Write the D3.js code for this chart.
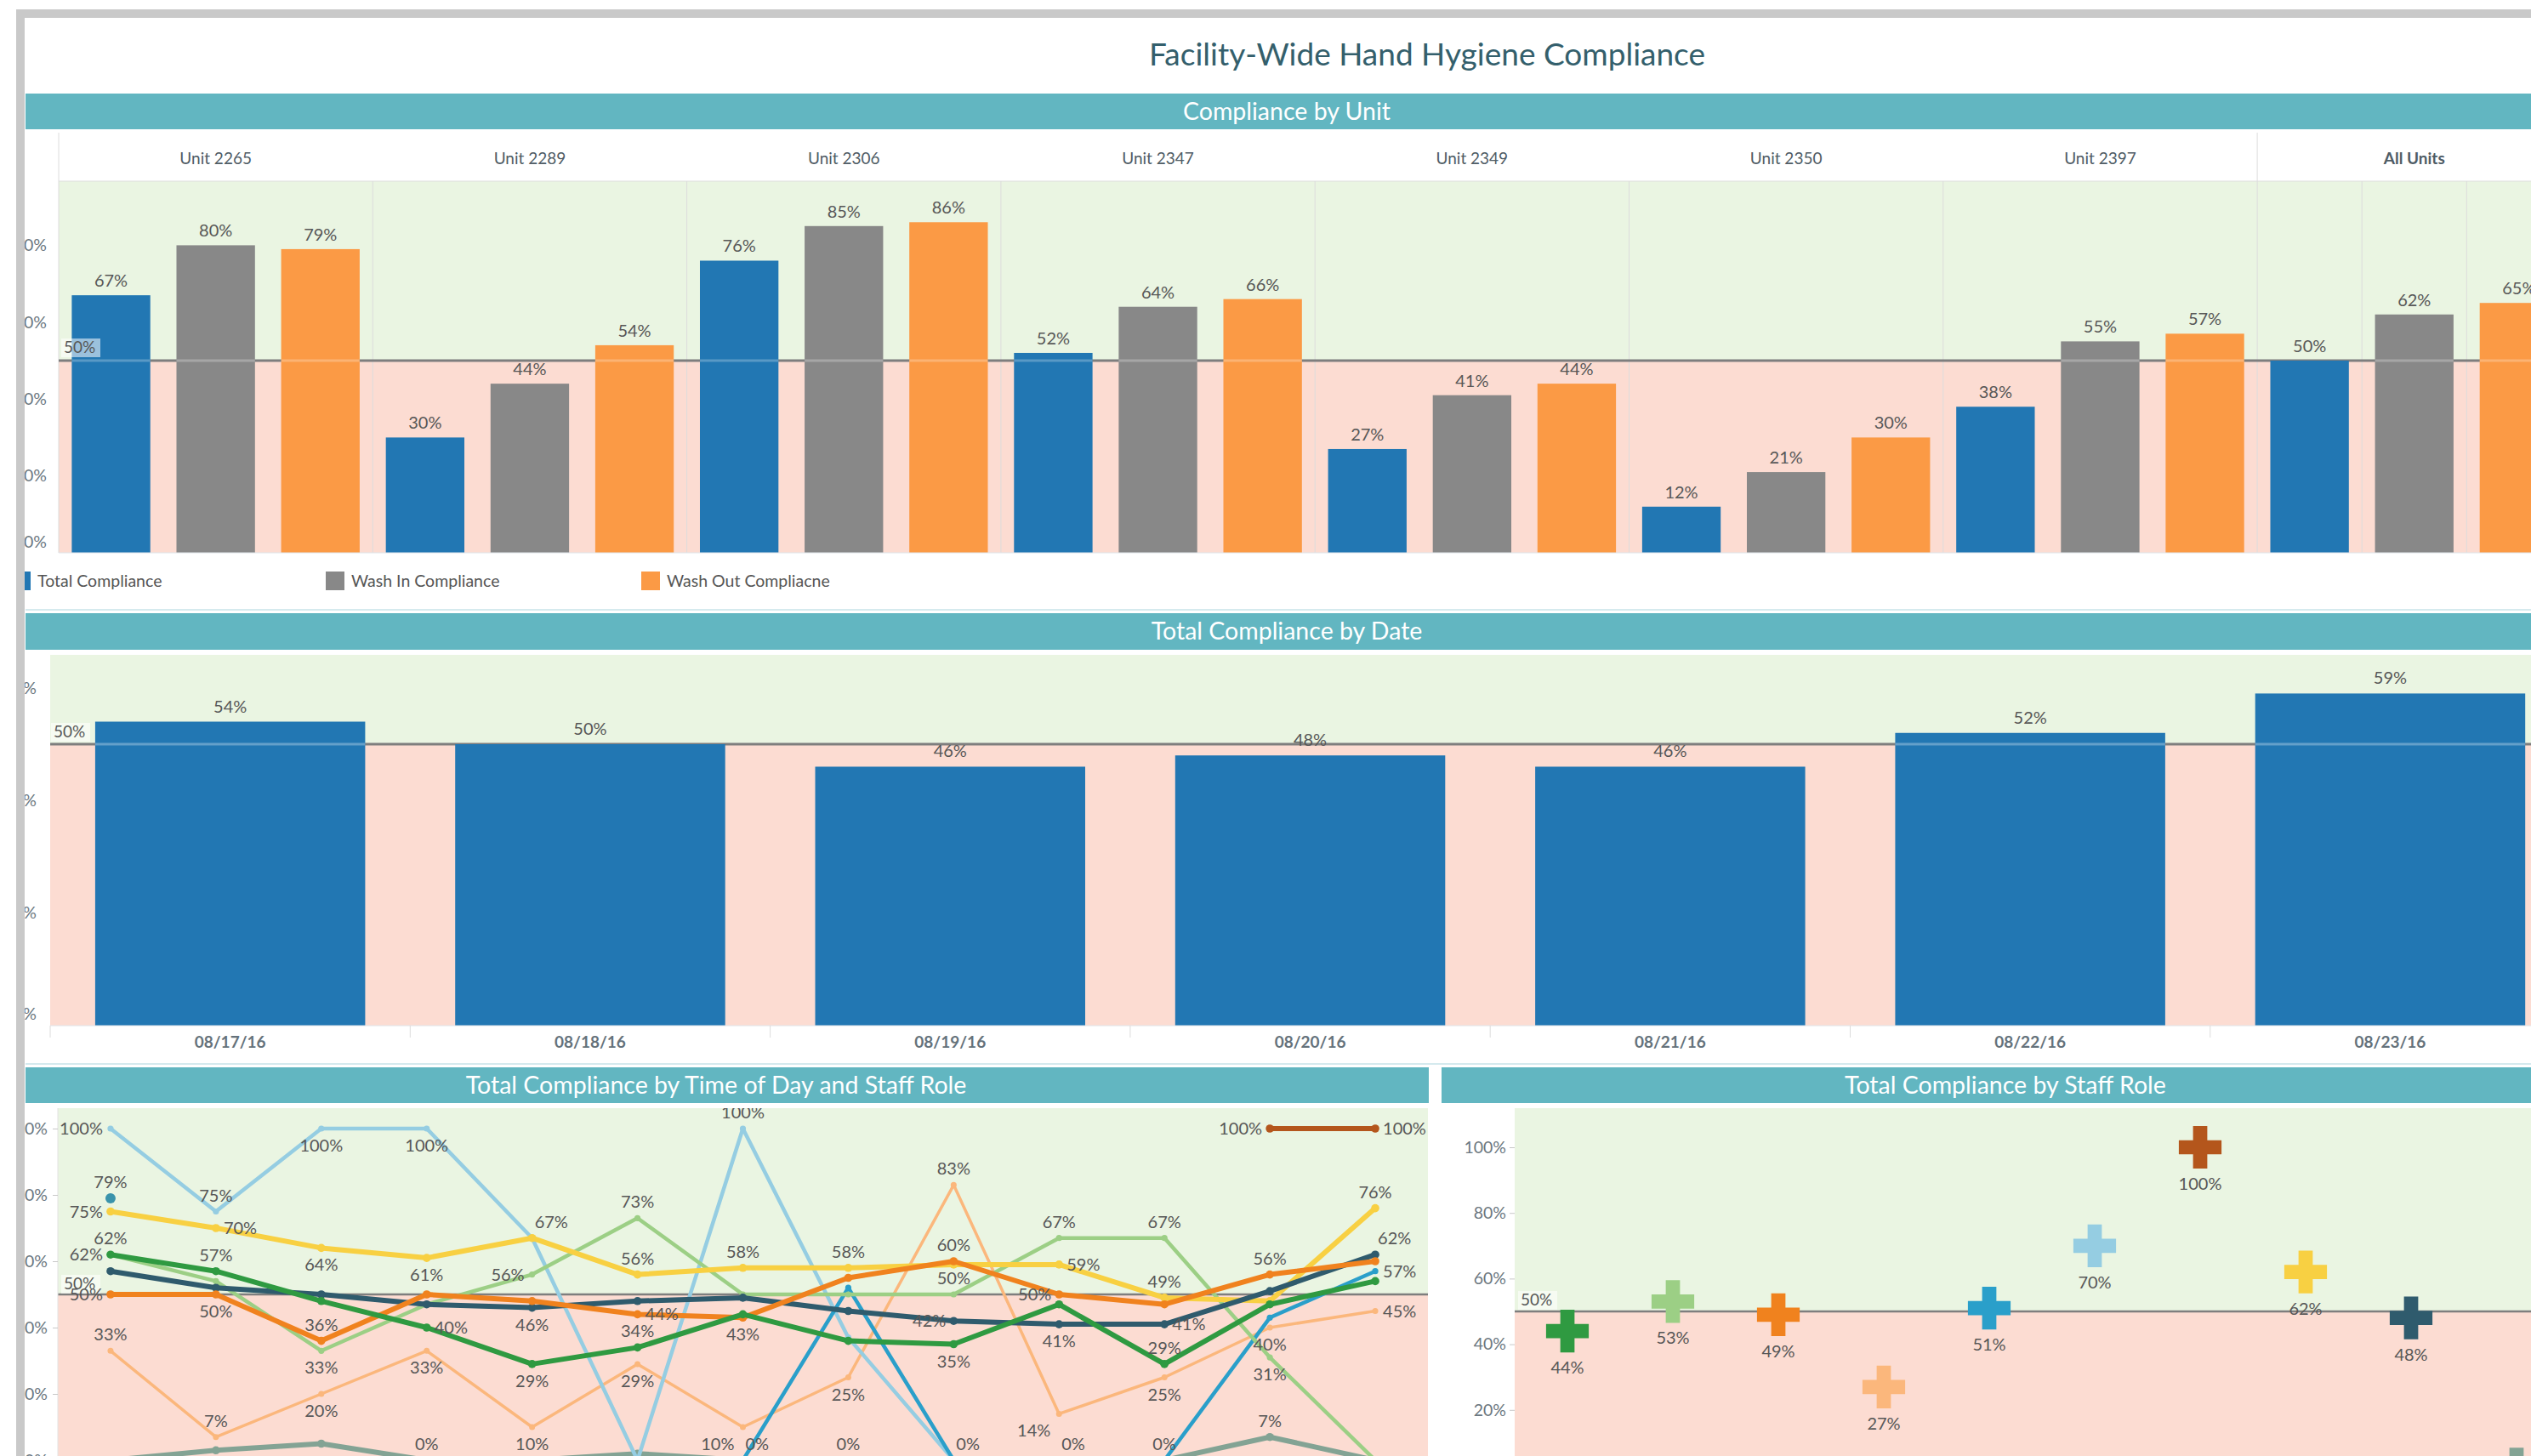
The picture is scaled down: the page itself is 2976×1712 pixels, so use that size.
<!DOCTYPE html>
<html>
<head>
<meta charset="utf-8">
<script src="https://cdn.jsdelivr.net/npm/d3@7"></script>
<style>
  body { margin: 0; background: #fff; }
  svg { display: block; font-family: Lato, "Open Sans", sans-serif; }
</style>
</head>
<body>
<script>
const W = 2976, H = 1712;

// ---- data ----
const units = ['Unit 2265', 'Unit 2289', 'Unit 2306', 'Unit 2347', 'Unit 2349', 'Unit 2350', 'Unit 2397', 'All Units'];
const measures = ['Total Compliance', 'Wash In Compliance', 'Wash Out Compliacne'];
const totalByUnit   = [67, 30, 76, 52, 27, 12, 38, 50];
const washInByUnit  = [80, 44, 85, 64, 41, 21, 55, 62];
const washOutByUnit = [79, 54, 86, 66, 44, 30, 57, 65];

const dates = ['08/17/16', '08/18/16', '08/19/16', '08/20/16', '08/21/16', '08/22/16', '08/23/16'];
const totalByDate = [54, 50, 46, 48, 46, 52, 59];

const target = 50;
const unitTicks = [0, 20, 40, 60, 80];
const dateTicks = [0, 20, 40, 60];
const lineTicks = [0, 20, 40, 60, 80, 100];
const roleTicks = [20, 40, 60, 80, 100];

// time slots of the day (axis itself sits below the visible area)
const timeSlots = ['07:00', '08:00', '09:00', '10:00', '11:00', '12:00', '13:00', '14:00', '15:00', '16:00', '17:00', '18:00', '19:00'];

const roles = ['Role 1', 'Role 2', 'Role 3', 'Role 4', 'Role 5', 'Role 6', 'Role 7', 'Role 8', 'Role 9', 'Role 10', 'Role 11'];
const roleCompliance = [44, 53, 49, 27, 51, 70, 100, 62, 48, 2, 79];
const roleColors = ['#2f9a41', '#9ccf85', '#f0821e', '#fbb77c', '#2a9fca', '#95cde2', '#b4561c', '#f8d042', '#2f5b6d', '#83a394', '#3a93ab'];

const role1Line  = [62, 57, 48, 40, 29, 34, 44, 36, 35, 47, 29, 47, 54];
const role2Line  = [62, 54, 33, 47, 56, 73, 50, 50, 50, 67, 67, 31, 0];
const role3Line  = [50, 50, 36, 50, 48, 44, 43, 55, 60, 50, 47, 56, 60];
const role4Line  = [33, 7, 20, 33, 10, 29, 10, 25, 83, 14, 25, 40, 45];
const role5Line  = [null, null, null, null, null, null, 0, 52, 0, 0, 0, 43, 57];
const role6Line  = [100, 75, 100, 100, 67, 0, 100, 37, 0, null, null, null, null];
const role7Line  = [null, null, null, null, null, null, null, null, null, null, null, 100, 100];
const role8Line  = [75, 70, 64, 61, 67, 56, 58, 58, 59, 59, 49, 48, 76];
const role9Line  = [57, 52, 50, 47, 46, 48, 49, 45, 42, 41, 41, 51, 62];
const role10Line = [0, 3, 5, 0, 0, 2, 0, 0, 0, 0, 0, 7, 0];
const role11Line = [79, null, null, null, null, null, null, null, null, null, null, null, null];

// label placement per point: a above, b below, l left, r right, p above-right, q below-left, . none
const roleLabelPos = ['la.rba..b.a..', 'a.b.la..aaab.', 'lba..rb.al.a.', 'aabbbbqbaqbbr', '......p.....r',
                      'labb..a.p....', '...........lr', 'lrbbpaaa.ra.a', '....b...lbr.p', '...a...a.paa.', 'a............'];
const roleLineWidth = [6, 4.5, 6, 3.5, 4.5, 4.5, 6, 6, 6, 6, 0];
const drawOrder = [9, 3, 5, 4, 1, 7, 8, 2, 0, 6, 10];

// ---- styles ----
const green = '#eaf5e2', pink = '#fcdcd2', teal = '#62b6c1';
const refColor = '#7e7e7e', labelColor = '#575757', tickColor = '#6b7780';
const pct = d => d + '%';

const svg = d3.select('body').append('svg').attr('width', W).attr('height', H);

function banner(x0, x1, y0, y1, text, cx) {
  svg.append('rect').attr('x', x0).attr('y', y0).attr('width', x1 - x0).attr('height', y1 - y0).attr('fill', teal);
  svg.append('text').attr('x', cx).attr('y', (y0 + y1) / 2).attr('dy', '0.35em')
    .attr('text-anchor', 'middle').attr('fill', '#fff').attr('font-size', 28.5).text(text);
}

function refLabel(g, x, y) {
  g.append('rect').attr('x', x).attr('y', y - 24).attr('width', 46).attr('height', 22)
    .attr('fill', '#fff').attr('opacity', 0.55);
  g.append('text').attr('x', x + 3).attr('y', y - 7).attr('font-size', 19).attr('fill', labelColor).text('50%');
}

function yAxis(g, scale, ticks, size, pad) {
  g.call(d3.axisLeft(scale).tickValues(ticks).tickFormat(pct).tickSize(size).tickPadding(pad));
  g.select('.domain').remove();
  g.selectAll('.tick line').attr('stroke', '#c8c8c8');
  g.selectAll('.tick text').attr('fill', tickColor).attr('font-size', 19.5).attr('font-family', 'Lato, sans-serif');
}

// ---- title ----
svg.append('text').attr('x', 1678).attr('y', 77).attr('text-anchor', 'middle')
  .attr('font-size', 37).attr('fill', '#345f6c').text('Facility-Wide Hand Hygiene Compliance');

// ================= Compliance by Unit =================
banner(30, 2996, 110, 152, 'Compliance by Unit', 1513);

const xUnit = d3.scaleBand().domain(units).range([69, 69 + 369.3 * units.length]);
const xMeasure = d3.scaleBand().domain(measures).range([0, xUnit.bandwidth()]).paddingInner(0.25).paddingOuter(0.125);
const yUnit = d3.scaleLinear().domain([0, 100]).range([650, 198]);
const measureColor = d3.scaleOrdinal().domain(measures).range(['#2277b3', '#888888', '#fb9a45']);
const unitTop = 213;

const unitRows = units.flatMap((u, i) => [
  { unit: u, measure: measures[0], value: totalByUnit[i] },
  { unit: u, measure: measures[1], value: washInByUnit[i] },
  { unit: u, measure: measures[2], value: washOutByUnit[i] }
]);

const gU = svg.append('g');
gU.append('rect').attr('x', 69).attr('y', unitTop).attr('width', W - 69).attr('height', yUnit(target) - unitTop).attr('fill', green);
gU.append('rect').attr('x', 69).attr('y', yUnit(target)).attr('width', W - 69).attr('height', yUnit(0) - yUnit(target)).attr('fill', pink);

// header labels + dividers
gU.selectAll('.unit-label').data(units).join('text')
  .attr('x', d => xUnit(d) + xUnit.bandwidth() / 2).attr('y', 193)
  .attr('text-anchor', 'middle').attr('font-size', 19).attr('fill', '#4f5c65')
  .attr('font-weight', d => d === 'All Units' ? 700 : 400).text(d => d);
gU.append('line').attr('x1', 69).attr('x2', W).attr('y1', unitTop).attr('y2', unitTop).attr('stroke', '#dedede');
gU.selectAll('.unit-div').data(units).join('line')
  .attr('x1', d => xUnit(d)).attr('x2', d => xUnit(d))
  .attr('y1', d => (d === 'All Units' || d === units[0]) ? 156 : unitTop).attr('y2', yUnit(0))
  .attr('stroke', '#dcdcdc');
gU.selectAll('.all-div').data(measures.slice(1)).join('line')
  .attr('x1', d => xUnit('All Units') + xMeasure(d) - xMeasure.step() * xMeasure.paddingInner() / 2)
  .attr('x2', d => xUnit('All Units') + xMeasure(d) - xMeasure.step() * xMeasure.paddingInner() / 2)
  .attr('y1', unitTop).attr('y2', yUnit(0)).attr('stroke', '#dcdcdc');

gU.append('line').attr('x1', 69).attr('x2', W).attr('y1', yUnit(target)).attr('y2', yUnit(target))
  .attr('stroke', refColor).attr('stroke-width', 3);

gU.selectAll('.bar').data(unitRows).join('rect')
  .attr('x', d => xUnit(d.unit) + xMeasure(d.measure)).attr('width', xMeasure.bandwidth())
  .attr('y', d => yUnit(d.value)).attr('height', d => yUnit(0) - yUnit(d.value))
  .attr('fill', d => measureColor(d.measure));
gU.selectAll('.stripe').data(unitRows.filter(d => d.value > target)).join('rect')
  .attr('x', d => xUnit(d.unit) + xMeasure(d.measure)).attr('width', xMeasure.bandwidth())
  .attr('y', yUnit(target) - 1.5).attr('height', 3).attr('fill', '#fff').attr('opacity', 0.25);
gU.selectAll('.val').data(unitRows).join('text')
  .attr('x', d => xUnit(d.unit) + xMeasure(d.measure) + xMeasure.bandwidth() / 2)
  .attr('y', d => yUnit(d.value) - 10).attr('text-anchor', 'middle')
  .attr('font-size', 20).attr('fill', labelColor).text(d => pct(d.value));
refLabel(gU, 72, yUnit(target) - 2);
gU.append('line').attr('x1', 69).attr('x2', W).attr('y1', yUnit(0)).attr('y2', yUnit(0)).attr('stroke', '#dfe5ea');

const gUy = svg.append('g').attr('transform', 'translate(69,0)');
yAxis(gUy, yUnit, unitTicks, 0, 14);
gUy.selectAll('.tick text').filter(d => d === 0).attr('dy', '-0.35em');

// legend
const legendX = [14, 383, 754];
const gL = svg.append('g');
gL.selectAll('rect').data(measures).join('rect')
  .attr('x', (d, i) => legendX[i]).attr('y', 672).attr('width', 22).attr('height', 22).attr('fill', d => measureColor(d));
gL.selectAll('text').data(measures).join('text')
  .attr('x', (d, i) => legendX[i] + 30).attr('y', 690).attr('font-size', 19.5).attr('fill', '#555').text(d => d);

svg.append('line').attr('x1', 30).attr('x2', W).attr('y1', 717).attr('y2', 717).attr('stroke', '#d5eaee').attr('stroke-width', 2);

// ================= Total Compliance by Date =================
banner(30, 2996, 721, 764, 'Total Compliance by Date', 1513);

const xDate = d3.scaleBand().domain(dates).range([59, 59 + 423.3 * dates.length]).paddingInner(0.25).paddingOuter(0.125);
const yDate = d3.scaleLinear().domain([0, 100]).range([1206, 544]);
const dateTop = 770;
const dateRows = dates.map((d, i) => ({ date: d, value: totalByDate[i] }));

const gD = svg.append('g');
gD.append('rect').attr('x', 59).attr('y', dateTop).attr('width', W - 59).attr('height', yDate(target) - dateTop).attr('fill', green);
gD.append('rect').attr('x', 59).attr('y', yDate(target)).attr('width', W - 59).attr('height', yDate(0) - yDate(target)).attr('fill', pink);
gD.append('line').attr('x1', 59).attr('x2', W).attr('y1', yDate(target)).attr('y2', yDate(target))
  .attr('stroke', refColor).attr('stroke-width', 3);
gD.selectAll('.bar').data(dateRows).join('rect')
  .attr('x', d => xDate(d.date)).attr('width', xDate.bandwidth())
  .attr('y', d => yDate(d.value)).attr('height', d => yDate(0) - yDate(d.value)).attr('fill', '#2277b3');
gD.selectAll('.stripe').data(dateRows.filter(d => d.value > target)).join('rect')
  .attr('x', d => xDate(d.date)).attr('width', xDate.bandwidth())
  .attr('y', yDate(target) - 1.5).attr('height', 3).attr('fill', '#fff').attr('opacity', 0.3);
gD.selectAll('.val').data(dateRows).join('text')
  .attr('x', d => xDate(d.date) + xDate.bandwidth() / 2).attr('y', d => yDate(d.value) - 11)
  .attr('text-anchor', 'middle').attr('font-size', 20).attr('fill', labelColor).text(d => pct(d.value));
refLabel(gD, 60, yDate(target) - 1);
gD.append('line').attr('x1', 59).attr('x2', W).attr('y1', yDate(0)).attr('y2', yDate(0)).attr('stroke', '#dfe5ea');
gD.selectAll('.xtick').data(dates).join('line')
  .attr('x1', d => xDate(d) - xDate.step() * 0.125).attr('x2', d => xDate(d) - xDate.step() * 0.125)
  .attr('y1', yDate(0)).attr('y2', yDate(0) + 14).attr('stroke', '#dcdcdc');
gD.selectAll('.xlab').data(dates).join('text')
  .attr('x', d => xDate(d) + xDate.bandwidth() / 2).attr('y', 1232).attr('text-anchor', 'middle')
  .attr('font-size', 19).attr('font-weight', 700).attr('fill', '#65727b').text(d => d);

const gDy = svg.append('g').attr('transform', 'translate(59,0)');
yAxis(gDy, yDate, dateTicks, 0, 16);
gDy.selectAll('.tick text').filter(d => d === 0).attr('dy', '-0.4em');

svg.append('line').attr('x1', 30).attr('x2', W).attr('y1', 1251).attr('y2', 1251).attr('stroke', '#d5eaee').attr('stroke-width', 2);

// ================= Total Compliance by Time of Day and Staff Role =================
banner(30, 1680, 1255, 1297, 'Total Compliance by Time of Day and Staff Role', 842);

const lineLeft = 68, lineRight = 1679, lineTop = 1303;
const xTime = d3.scalePoint().domain(timeSlots).range([lineLeft, lineRight]).padding(0.5);
const yTime = d3.scaleLinear().domain([0, 100]).range([1717, 1327]);
const roleLines = [role1Line, role2Line, role3Line, role4Line, role5Line, role6Line, role7Line, role8Line, role9Line, role10Line, role11Line];

svg.append('clipPath').attr('id', 'lineClip').append('rect')
  .attr('x', lineLeft).attr('y', lineTop).attr('width', lineRight - lineLeft).attr('height', H - lineTop);

const gT = svg.append('g');
gT.append('rect').attr('x', lineLeft).attr('y', lineTop).attr('width', lineRight - lineLeft).attr('height', yTime(target) - lineTop).attr('fill', green);
gT.append('rect').attr('x', lineLeft).attr('y', yTime(target)).attr('width', lineRight - lineLeft).attr('height', H - yTime(target)).attr('fill', pink);
gT.append('line').attr('x1', lineLeft).attr('x2', lineRight).attr('y1', yTime(target)).attr('y2', yTime(target))
  .attr('stroke', refColor).attr('stroke-width', 2.5);
refLabel(gT, 72, yTime(target) + 1);

const series = drawOrder.map(i => ({
  role: roles[i], color: roleColors[i], width: roleLineWidth[i],
  points: timeSlots.map((t, j) => ({ t, v: roleLines[i][j], pos: roleLabelPos[i][j] })).filter(p => p.v !== null)
}));

const line = d3.line().x(p => xTime(p.t)).y(p => yTime(p.v));
const gLines = gT.append('g').attr('clip-path', 'url(#lineClip)');
const sG = gLines.selectAll('.series').data(series).join('g');
sG.append('path').attr('d', d => line(d.points)).attr('fill', 'none')
  .attr('stroke', d => d.color).attr('stroke-width', d => d.width)
  .attr('stroke-linejoin', 'round').attr('stroke-linecap', 'round');
sG.selectAll('circle').data(d => d.points.map(p => ({ ...p, color: d.color, width: d.width }))).join('circle')
  .attr('cx', p => xTime(p.t)).attr('cy', p => yTime(p.v))
  .attr('r', p => p.width === 0 ? 6 : Math.max(3.5, p.width * 0.8)).attr('fill', p => p.color);

const labelPts = series.flatMap(s => s.points.filter(p => p.pos !== '.'));
const off = {
  a: [0, -12, 'middle'], b: [0, 27, 'middle'], l: [-9, 7, 'end'], r: [9, 7, 'start'],
  p: [3, -12, 'start'], q: [-10, 27, 'end']
};
gLines.selectAll('.plab').data(labelPts).join('text')
  .attr('x', p => xTime(p.t) + off[p.pos][0]).attr('y', p => yTime(p.v) + off[p.pos][1])
  .attr('text-anchor', p => off[p.pos][2]).attr('font-size', 20).attr('fill', labelColor)
  .text(p => pct(p.v));

gT.append('line').attr('x1', lineLeft).attr('x2', lineLeft).attr('y1', lineTop).attr('y2', H).attr('stroke', '#e2e2e2');
const gTy = svg.append('g').attr('transform', `translate(${lineLeft},0)`);
yAxis(gTy, yTime, lineTicks, 6, 6);

// ================= Total Compliance by Staff Role =================
banner(1695, 3021, 1255, 1297, 'Total Compliance by Staff Role', 2358);

const roleLeft = 1781, roleTop = 1303;
const xRole = d3.scaleBand().domain(roles).range([roleLeft, roleLeft + 124 * roles.length]);
const yRole = d3.scaleLinear().domain([0, 100]).range([1735, 1349]);
const roleRows = roles.map((r, i) => ({ role: r, value: roleCompliance[i], color: roleColors[i] }));

const gR = svg.append('g');
gR.append('rect').attr('x', roleLeft).attr('y', roleTop).attr('width', W - roleLeft).attr('height', yRole(target) - roleTop).attr('fill', green);
gR.append('rect').attr('x', roleLeft).attr('y', yRole(target)).attr('width', W - roleLeft).attr('height', H - yRole(target)).attr('fill', pink);
gR.append('line').attr('x1', roleLeft).attr('x2', W).attr('y1', yRole(target)).attr('y2', yRole(target))
  .attr('stroke', refColor).attr('stroke-width', 2.5);
refLabel(gR, 1785, yRole(target));
gR.selectAll('.lab').data(roleRows).join('text')
  .attr('x', d => xRole(d.role) + xRole.bandwidth() / 2).attr('y', d => yRole(d.value) + 50)
  .attr('text-anchor', 'middle').attr('font-size', 20).attr('fill', labelColor).text(d => pct(d.value));
gR.selectAll('.cross').data(roleRows).join('path')
  .attr('transform', d => `translate(${xRole(d.role) + xRole.bandwidth() / 2},${yRole(d.value)})`)
  .attr('d', d3.symbol(d3.symbolCross, 1400)).attr('fill', d => d.color);

const gRy = svg.append('g').attr('transform', `translate(${roleLeft},0)`);
yAxis(gRy, yRole, roleTicks, 6, 4);

// ---- frame ----
svg.append('rect').attr('x', 0).attr('y', 0).attr('width', 19).attr('height', H).attr('fill', '#fff');
svg.append('rect').attr('x', 19).attr('y', 11).attr('width', W - 19).attr('height', 10).attr('fill', '#c9c9c9');
svg.append('rect').attr('x', 19).attr('y', 11).attr('width', 10).attr('height', H - 11).attr('fill', '#c9c9c9');
</script>
</body>
</html>
